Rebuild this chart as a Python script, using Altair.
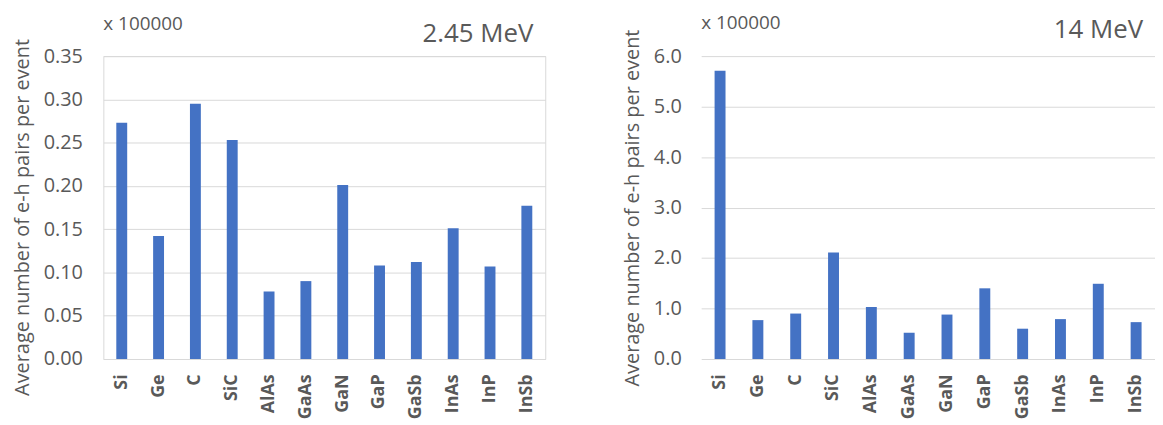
import altair as alt
import pandas as pd

materials = ["Si", "Ge", "C", "SiC", "AlAs", "GaAs", "GaN", "GaP", "GaSb", "InAs", "InP", "InSb"]
pairs_245 = [0.273, 0.142, 0.295, 0.253, 0.078, 0.090, 0.201, 0.108, 0.112, 0.151, 0.107, 0.177]
pairs_14 = [5.71, 0.77, 0.90, 2.11, 1.03, 0.52, 0.88, 1.40, 0.60, 0.79, 1.49, 0.73]
ticks_245 = [0, 0.05, 0.10, 0.15, 0.20, 0.25, 0.30, 0.35]
ticks_14 = [0, 1, 2, 3, 4, 5, 6]
scale_note = "x 100000"
energy_titles = ["2.45 MeV", "14 MeV"]
y_title = "Average number of e-h pairs per event"

FONT = "Open Sans"
GREY = "#595959"
BLUE = "#4472C4"
GRID = "#D9D9D9"


def panel(values, ticks, fmt, head, width, rng, pi, po, label_pad, title_y,
          head_x, head_base, note_base):
    df = pd.DataFrame({"material": materials, "pairs": values})
    sc = dict(paddingInner=pi, paddingOuter=po)
    if rng is not None:
        sc["range"] = rng
    yax = dict(values=ticks, format=fmt, title=y_title, titleFontSize=20,
               titleFontWeight="normal", titleColor=GREY, titleFont=FONT,
               titlePadding=11, labelFontSize=20, labelColor=GREY,
               labelFont=FONT, labelPadding=label_pad, ticks=False,
               domain=False, gridColor=GRID, gridWidth=1)
    if title_y is not None:
        yax["titleY"] = title_y
    bars = alt.Chart(df).mark_bar(color=BLUE).encode(
        x=alt.X("material:N", sort=materials, scale=alt.Scale(**sc),
                axis=alt.Axis(title=None, labelAngle=-90, labelFontWeight="bold",
                              labelFontSize=18, labelColor=GREY, labelFont=FONT,
                              labelPadding=15, ticks=False, domain=False,
                              grid=False)),
        y=alt.Y("pairs:Q", scale=alt.Scale(domain=[0, ticks[-1]], nice=False),
                axis=alt.Axis(**yax)),
    )
    note = alt.Chart(pd.DataFrame({"t": [scale_note]})).mark_text(
        align="left", baseline="alphabetic", font=FONT, fontSize=19, color=GREY
    ).encode(x=alt.value(0), y=alt.value(note_base), text="t:N")
    ttl = alt.Chart(pd.DataFrame({"t": [head]})).mark_text(
        align="right", baseline="alphabetic", font=FONT, fontSize=26, color=GREY
    ).encode(x=alt.value(head_x), y=alt.value(head_base), text="t:N")
    return alt.layer(bars, note, ttl).properties(width=width, height=305)


left = panel(pairs_245, ticks_245, ".2f", energy_titles[0], 445, None,
             0.704, 0.352, 21, 162, 433, -14, -26).properties(
    view=alt.ViewBackground(stroke=GRID))
right = panel(pairs_14, ticks_14, ".1f", energy_titles[1], 449, [0, 457],
              0.711, 0.355, 20, None, 445, -18, -27)

chart = alt.hconcat(left, right, spacing=76).properties(
    padding={"left": 3, "top": 5, "right": 0, "bottom": 0}
).configure_view(stroke=None)

chart.save("out.html", embed_options={"renderer": "svg", "actions": False})
